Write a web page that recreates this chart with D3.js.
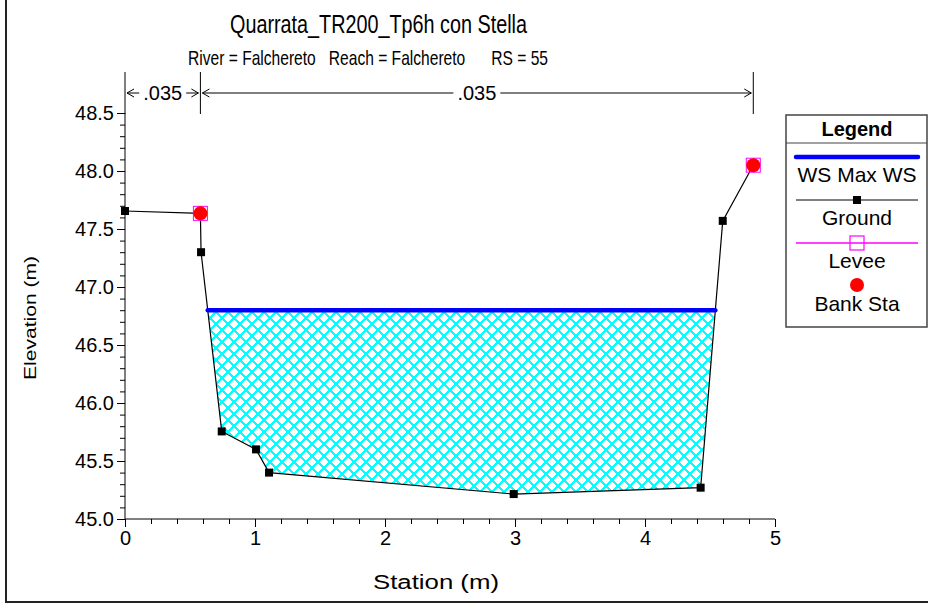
<!DOCTYPE html>
<html>
<head>
<meta charset="utf-8">
<script src="https://d3js.org/d3.v7.min.js"></script>
<style>
body { margin: 0; padding: 0; background: white; }
text { font-family: Arial, "Liberation Sans", sans-serif; fill: black; }
</style>
</head>
<body>
<svg id="chart" width="928" height="604"></svg>
<script>
// cross section data
var stations = [0, 0.58, 0.585, 0.744, 1.008, 1.108, 2.99, 4.428, 4.598, 4.833];
var elevations = [47.655, 47.635, 47.30, 45.755, 45.60, 45.40, 45.215, 45.27, 47.57, 48.05];
var bankStations = [0.58, 4.833];
var bankElev = [47.635, 48.05];
var wsElev = 46.80;
var nStations = [0, 0.58, 4.833];
var nValues = [".035", ".035"];
var xTicks = [0, 1, 2, 3, 4, 5];
var yTicks = [45.0, 45.5, 46.0, 46.5, 47.0, 47.5, 48.0, 48.5];
var legendLabels = ["WS Max WS", "Ground", "Levee", "Bank Sta"];

var svg = d3.select("#chart");

var x = d3.scaleLinear().domain([0, 5]).range([125, 775]);
var y = d3.scaleLinear().domain([45, 48.5]).range([519, 113]);

// hatch pattern for water
var defs = svg.append("defs");
var pat = defs.append("pattern")
  .attr("id", "hatch")
  .attr("patternUnits", "userSpaceOnUse")
  .attr("width", 12).attr("height", 12);
pat.append("path").attr("d", "M-1,1 l2,-2 M0,12 l12,-12 M11,13 l2,-2")
  .attr("stroke", "#00ffff").attr("stroke-width", 1.6).attr("shape-rendering", "crispEdges");
pat.append("path").attr("d", "M-1,11 l2,2 M0,0 l12,12 M11,-1 l2,2")
  .attr("stroke", "#00ffff").attr("stroke-width", 1.6).attr("shape-rendering", "crispEdges");

// frame
svg.append("line").attr("x1", 6).attr("x2", 6).attr("y1", 0).attr("y2", 603)
  .attr("stroke", "#222").attr("stroke-width", 2);
svg.append("line").attr("x1", 5).attr("x2", 928).attr("y1", 602).attr("y2", 602)
  .attr("stroke", "#222").attr("stroke-width", 2);

// titles (source rendering is condensed)
svg.append("text")
  .attr("x", 230).attr("y", 33)
  .attr("textLength", 297).attr("lengthAdjust", "spacingAndGlyphs")
  .style("font-size", "25px")
  .text("Quarrata_TR200_Tp6h con Stella");
svg.append("text")
  .attr("x", 188).attr("y", 65)
  .attr("textLength", 360).attr("lengthAdjust", "spacingAndGlyphs")
  .style("font-size", "21px")
  .attr("xml:space", "preserve")
  .text("River = Falchereto   Reach = Falchereto      RS = 55");

// water fill: ground clipped at WS elevation
var pts = stations.map(function(s, i) { return [s, elevations[i]]; });
var water = [];
for (var i = 0; i < pts.length - 1; i++) {
  var a = pts[i], b = pts[i + 1];
  if (a[1] < wsElev) water.push(a);
  if ((a[1] - wsElev) * (b[1] - wsElev) < 0) {
    var t = (wsElev - a[1]) / (b[1] - a[1]);
    water.push([a[0] + t * (b[0] - a[0]), wsElev]);
  }
}
var line = d3.line().x(function(d) { return x(d[0]); }).y(function(d) { return y(d[1]); });
svg.append("path")
  .attr("d", line(water) + "Z")
  .attr("fill", "url(#hatch)").attr("stroke", "none");

// axes
var xAxis = d3.axisBottom(x).tickValues(d3.range(0, 5.001, 0.2)).tickSize(5)
  .tickFormat(function(d) { return xTicks.indexOf(Math.round(d * 10) / 10) >= 0 ? d3.format("d")(d) : ""; });
var gx = svg.append("g").attr("transform", "translate(0,519)").call(xAxis);
gx.selectAll(".tick line").attr("y2", function(d) { return Math.abs(d - Math.round(d)) < 1e-6 ? 8 : 5; });
gx.selectAll(".tick text").attr("y", 12).style("font-size", "20px").style("font-family", "Arial, 'Liberation Sans', sans-serif");
gx.select(".domain").attr("d", "M125,0H775");

var yAxis = d3.axisLeft(y).tickValues(d3.range(45, 48.501, 0.1)).tickSize(5)
  .tickFormat(function(d) { var v = Math.round(d * 10) / 10; return yTicks.indexOf(v) >= 0 ? d3.format(".1f")(v) : ""; });
var gy = svg.append("g").attr("transform", "translate(125,0)").call(yAxis);
gy.selectAll(".tick line").attr("x2", function(d) { return Math.abs(d * 2 - Math.round(d * 2)) < 1e-6 ? -8 : -5; });
gy.selectAll(".tick text").attr("x", -11).style("font-size", "20px").style("font-family", "Arial, 'Liberation Sans', sans-serif");
gy.select(".domain").attr("d", "M0,519V113");

// axis titles
svg.append("text").attr("transform", "translate(36,318) rotate(-90)")
  .attr("text-anchor", "middle").style("font-size", "17px")
  .attr("textLength", 124).attr("lengthAdjust", "spacingAndGlyphs")
  .text("Elevation (m)");
svg.append("text").attr("x", 436).attr("y", 589)
  .attr("text-anchor", "middle").style("font-size", "20px")
  .attr("textLength", 126).attr("lengthAdjust", "spacingAndGlyphs")
  .text("Station (m)");

// Manning n brackets
svg.selectAll(".nline").data(nStations).enter().append("line")
  .attr("x1", function(d) { return x(d); }).attr("x2", function(d) { return x(d); })
  .attr("y1", 72).attr("y2", 114).attr("stroke", "black").attr("stroke-width", 1);

function chevron(px, py, dir) {
  return "M" + (px - dir * 7) + "," + (py - 4) + "L" + px + "," + py + "L" + (px - dir * 7) + "," + (py + 4);
}
for (var k = 0; k < nValues.length; k++) {
  var x0 = x(nStations[k]), x1 = x(nStations[k + 1]);
  var mid = (x0 + x1) / 2;
  var tx = svg.append("text").attr("x", mid).attr("y", 100)
    .attr("text-anchor", "middle").style("font-size", "20px").text(nValues[k]);
  var w = tx.node().getComputedTextLength();
  svg.append("path").attr("d", chevron(x0 + 2, 93, -1)).attr("fill", "none").attr("stroke", "black");
  svg.append("path").attr("d", chevron(x1 - 2, 93, 1)).attr("fill", "none").attr("stroke", "black");
  if (mid - w / 2 - 5 > x0 + 8) {
    svg.append("line").attr("x1", x0 + 2).attr("x2", mid - w / 2 - 4).attr("y1", 93).attr("y2", 93).attr("stroke", "black");
    svg.append("line").attr("x1", mid + w / 2 + 4).attr("x2", x1 - 2).attr("y1", 93).attr("y2", 93).attr("stroke", "black");
  }
}

// ground line
svg.append("path").attr("d", line(pts)).attr("fill", "none").attr("stroke", "black").attr("stroke-width", 1.2);

// water surface
var wsPts = water.filter(function(d) { return d[1] === wsElev; });
svg.append("line")
  .attr("x1", x(wsPts[0][0])).attr("x2", x(wsPts[wsPts.length - 1][0]))
  .attr("y1", y(wsElev)).attr("y2", y(wsElev))
  .attr("stroke", "#0000ff").attr("stroke-width", 4.5).attr("stroke-linecap", "round");

// ground markers
svg.selectAll(".gpt").data(pts).enter().append("rect")
  .attr("x", function(d) { return x(d[0]) - 4; }).attr("y", function(d) { return y(d[1]) - 4; })
  .attr("width", 8).attr("height", 8).attr("fill", "black");

// levee + bank stations
bankStations.forEach(function(s, i) {
  svg.append("rect").attr("x", x(s) - 7).attr("y", y(bankElev[i]) - 7)
    .attr("width", 14).attr("height", 14).attr("fill", "none").attr("stroke", "#ff00ff").attr("stroke-width", 1);
  svg.append("circle").attr("cx", x(s)).attr("cy", y(bankElev[i])).attr("r", 7).attr("fill", "#ff0000");
});

// legend
var lg = svg.append("g");
lg.append("rect").attr("x", 786).attr("y", 115).attr("width", 141).attr("height", 212)
  .attr("fill", "white").attr("stroke", "#444").attr("stroke-width", 1.5);
lg.append("line").attr("x1", 786).attr("x2", 927).attr("y1", 143).attr("y2", 143).attr("stroke", "#444");
lg.append("text").attr("x", 857).attr("y", 136).attr("text-anchor", "middle")
  .style("font-size", "20px").style("font-weight", "bold").text("Legend");
var lx0 = 796, lx1 = 918, lcx = 857;
lg.append("line").attr("x1", lx0).attr("x2", lx1).attr("y1", 157).attr("y2", 157)
  .attr("stroke", "#0000ff").attr("stroke-width", 4.5).attr("stroke-linecap", "round");
lg.append("line").attr("x1", lx0).attr("x2", lx1).attr("y1", 200).attr("y2", 200).attr("stroke", "black");
lg.append("rect").attr("x", lcx - 4).attr("y", 196).attr("width", 8).attr("height", 8).attr("fill", "black");
lg.append("line").attr("x1", lx0).attr("x2", lx1).attr("y1", 243).attr("y2", 243).attr("stroke", "#ff00ff").attr("stroke-width", 1.5);
lg.append("rect").attr("x", lcx - 7).attr("y", 236).attr("width", 14).attr("height", 14)
  .attr("fill", "none").attr("stroke", "#ff00ff").attr("stroke-width", 1.2);
lg.append("circle").attr("cx", lcx).attr("cy", 285).attr("r", 7).attr("fill", "#ff0000");
lg.selectAll(".ltxt").data(legendLabels).enter().append("text")
  .attr("x", lcx).attr("y", function(d, i) { return 182 + i * 43; })
  .attr("text-anchor", "middle").style("font-size", "21px").text(function(d) { return d; });
</script>
</body>
</html>
